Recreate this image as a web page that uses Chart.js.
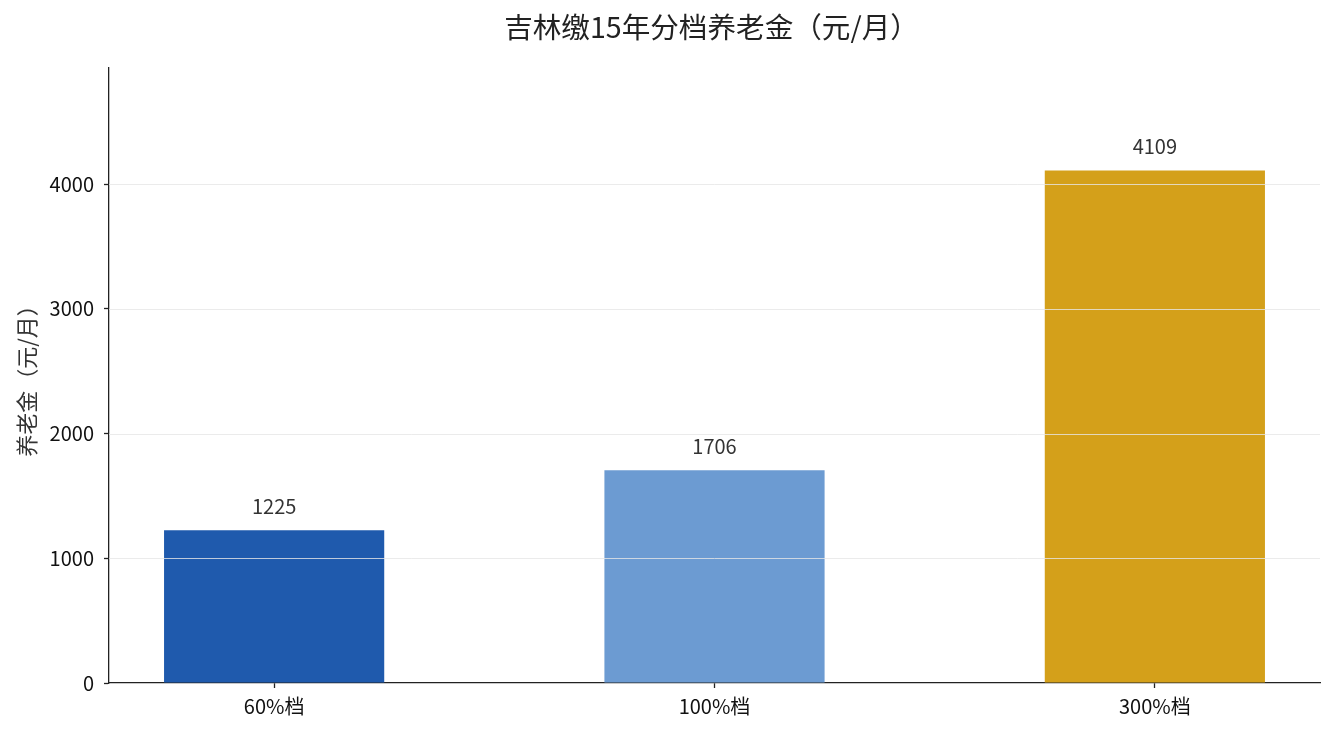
<!DOCTYPE html>
<html lang="zh">
<head>
    <meta charset="UTF-8">
    <title>吉林缴15年分档养老金</title>
    <script src="https://cdn.jsdelivr.net/npm/chart.js"></script>
    <style>
        html, body { margin: 0; padding: 0; background: #fff; }
        #wrap { width: 1335px; height: 735px; }
    </style>
</head>
<body>
    <div id="wrap"><canvas id="pensionChart"></canvas></div>
    <script>
        // 数据
        var chartTitle = '吉林缴15年分档养老金（元/月）';
        var categories = ['60%档', '100%档', '300%档'];
        var pensions = [1225, 1706, 4109];
        var barColors = ['#1f5aad', '#6c9bd2', '#d4a01a'];
        var yTicks = [0, 1000, 2000, 3000, 4000];

        var FONT = '"Noto Sans CJK SC", "Noto Sans", sans-serif';

        // 标题居中于绘图区（matplotlib 风格）
        var plotTitle = {
            id: 'plotTitle',
            afterDraw: function (chart) {
                var ctx = chart.ctx, area = chart.chartArea;
                ctx.save();
                ctx.font = '28.6px ' + FONT;
                ctx.fillStyle = '#222222';
                ctx.textAlign = 'center';
                ctx.textBaseline = 'middle';
                ctx.fillText(chartTitle, (area.left + area.right) / 2 - 3, 27);
                ctx.restore();
            }
        };

        // 网格线画在柱子上面（与原图一致）
        var gridOnTop = {
            id: 'gridOnTop',
            afterDatasetsDraw: function (chart) {
                var ctx = chart.ctx, area = chart.chartArea, y = chart.scales.y;
                ctx.save();
                ctx.strokeStyle = 'rgba(230,230,230,0.8)';
                ctx.lineWidth = 1;
                yTicks.forEach(function (t) {
                    if (t === 0) return;
                    var py = Math.round(y.getPixelForValue(t)) + 0.5;
                    ctx.beginPath();
                    ctx.moveTo(area.left, py);
                    ctx.lineTo(area.right, py);
                    ctx.stroke();
                });
                ctx.restore();
            }
        };

        // 柱顶数值
        var valueLabels = {
            id: 'valueLabels',
            afterDatasetsDraw: function (chart) {
                var ctx = chart.ctx;
                var meta = chart.getDatasetMeta(0);
                ctx.save();
                ctx.font = '20px ' + FONT;
                ctx.fillStyle = '#333333';
                ctx.textAlign = 'center';
                ctx.textBaseline = 'middle';
                meta.data.forEach(function (bar, i) {
                    ctx.fillText(String(pensions[i]), bar.x, bar.y - 24);
                });
                ctx.restore();
            }
        };

        new Chart(document.getElementById('pensionChart').getContext('2d'), {
            type: 'bar',
            data: {
                datasets: [{
                    data: pensions.map(function (v, i) { return { x: i, y: v }; }),
                    backgroundColor: barColors,
                    borderWidth: 0,
                    barPercentage: 0.5,
                    categoryPercentage: 1.0
                }]
            },
            options: {
                responsive: true,
                maintainAspectRatio: false,
                animation: false,
                layout: { padding: { left: 0, right: 15, top: 68, bottom: 0 } },
                plugins: {
                    legend: { display: false },
                    tooltip: { enabled: false },
                    title: { display: false }
                },
                scales: {
                    x: {
                        type: 'linear',
                        offset: false,
                        min: -0.375,
                        max: 2.375,
                        afterBuildTicks: function (scale) {
                            scale.ticks = categories.map(function (c, i) { return { value: i }; });
                        },
                        afterFit: function (scale) { scale.height = 52; },
                        ticks: {
                            color: '#111111',
                            font: { family: FONT, size: 20 },
                            padding: 6,
                            autoSkip: false,
                            maxRotation: 0,
                            callback: function (v) { return categories[v]; }
                        },
                        grid: {
                            offset: false,
                            drawOnChartArea: false,
                            tickLength: 5,
                            tickColor: '#222222',
                            tickWidth: 1.3
                        },
                        border: { color: '#222222', width: 1.3 }
                    },
                    y: {
                        min: 0,
                        max: 4930.8,
                        afterBuildTicks: function (scale) {
                            scale.ticks = yTicks.map(function (t) { return { value: t }; });
                        },
                        afterFit: function (scale) { scale.width = 109; },
                        ticks: {
                            color: '#111111',
                            font: { family: FONT, size: 20 },
                            padding: 10,
                            includeBounds: false,
                            callback: function (v) { return String(v); }
                        },
                        grid: {
                            drawOnChartArea: false,
                            tickLength: 5,
                            tickColor: '#222222',
                            tickWidth: 1.3
                        },
                        border: { color: '#222222', width: 1.3 },
                        title: {
                            display: true,
                            text: '养老金（元/月）',
                            color: '#333333',
                            font: { family: FONT, size: 22 },
                            padding: { top: 13, bottom: 4 }
                        }
                    }
                }
            },
            plugins: [gridOnTop, valueLabels, plotTitle]
        });
    </script>
</body>
</html>
